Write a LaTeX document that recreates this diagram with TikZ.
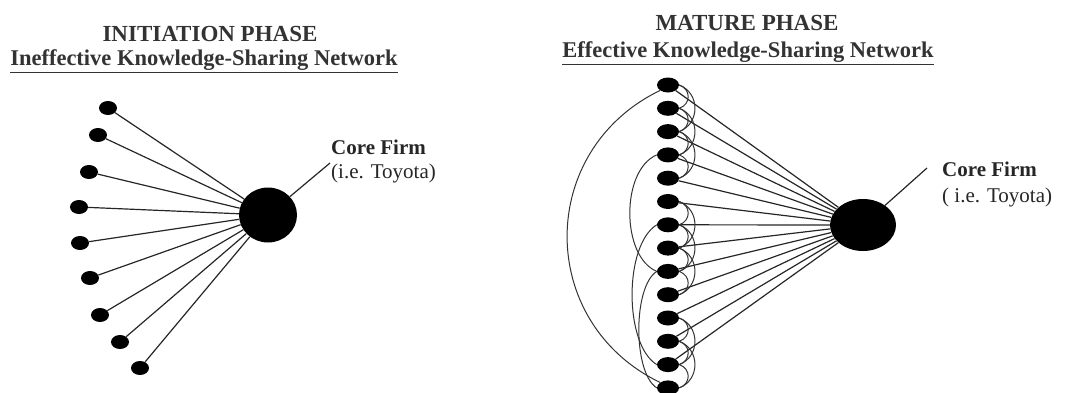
\documentclass[tikz,border=0pt]{standalone}
\usepackage{fontspec}
\setmainfont{Liberation Serif}
\usetikzlibrary{shapes.geometric}
\begin{document}
\begin{tikzpicture}[x=1pt,y=-1pt,
  ldot/.style={ellipse,fill=black,draw=none,minimum width=18pt,minimum height=14pt,inner sep=0pt},
  rdot/.style={ellipse,fill=black,draw=none,minimum width=22pt,minimum height=15pt,inner sep=0pt},
  core/.style={ellipse,fill=black,draw=none,inner sep=0pt},
  conn/.style={line width=1.2pt,black!85},
  arcl/.style={line width=1pt,black!80},
  ttl/.style={font=\fontsize{23}{26}\selectfont\bfseries,inner sep=0pt,text=black!80},
  sub/.style={font=\fontsize{22.5}{26}\selectfont\bfseries,inner sep=0pt,text=black!80},
  lab/.style={font=\fontsize{21}{24}\selectfont\bfseries,inner sep=0pt,anchor=west,text=black!85},
  labs/.style={font=\fontsize{21}{24}\selectfont,inner sep=0pt,anchor=west,text=black!85}]
\useasboundingbox (0,0) rectangle (1076,392);
% ---------- left panel ----------
\node[ttl] (t1) at (210,34) {INITIATION PHASE};
\node[sub] (s1) at (204,61) {\underline{Ineffective Knowledge-Sharing Network}};
\node[core,minimum width=58pt,minimum height=55pt] (Lc) at (268,215) {};
\foreach \i/\x/\y in {1/108/108,2/98/135,3/89/172,4/79/207,5/80/243,6/90/278,7/100/315,8/120/342,9/140/368}{
  \node[ldot] (L\i) at (\x,\y) {};
  \draw[conn] (L\i) -- (Lc);
}
\coordinate (Lk) at (330,163);
\draw[conn] (Lc) -- (Lk);
\node[lab] (Lt) at (331,147) {Core Firm};
\node[labs] (Ls) at (331,173) {(i.e. Toyota)};
% ---------- right panel ----------
\node[ttl] (t2) at (747,23) {MATURE PHASE};
\node[sub] (s2) at (748,53) {\underline{Effective Knowledge-Sharing Network}};
\node[core,minimum width=66pt,minimum height=52pt] (Rc) at (863,225) {};
\foreach \i in {1,...,14}{
  \node[rdot] (R\i) at (668,{85+23.3*(\i-1)}) {};
}
\foreach \i in {1,...,13}{
  \draw[conn] (R\i) -- (Rc);
}
% small loops on the right side
\foreach \i in {1,2,3,4,6,7,8,9,11,12,13}{
  \pgfmathtruncatemacro{\j}{\i+1}
  \draw[arcl] (R\i.east) .. controls +(12,4) and +(12,-4) .. (R\j.east);
}
\foreach \i in {1,2,3,6,7,8,11,12}{
  \pgfmathtruncatemacro{\j}{\i+2}
  \draw[arcl] (R\i.east) .. controls +(21,8) and +(21,-8) .. (R\j.east);
}
% arcs on the left side
\draw[arcl] (R1.south west) .. controls +(-124,60) and +(-124,-60) .. (R14.north west);
\draw[arcl] (R4.west) .. controls +(-36,15) and +(-36,-15) .. (R9.west);
\draw[arcl] (R7.west) .. controls +(-33,20) and +(-33,-20) .. (R13.west);
\draw[arcl] (R9.west) .. controls +(-24,15) and +(-24,-15) .. (R14.west);
\coordinate (Rk) at (927,168);
\draw[conn] (Rc) -- (Rk);
\node[lab] (Rt) at (942,169) {Core Firm};
\node[labs] (Rs) at (942,197) {( i.e. Toyota)};
\end{tikzpicture}
\end{document}
